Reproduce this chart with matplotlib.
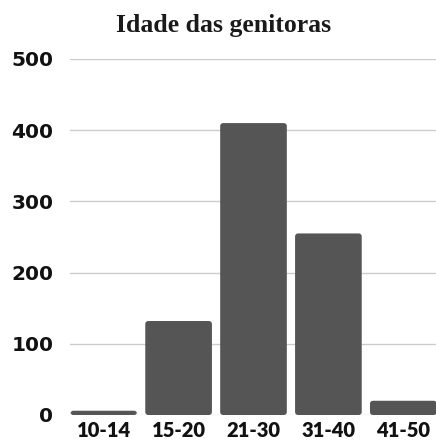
import matplotlib
matplotlib.use("Agg")
import matplotlib.pyplot as plt
from matplotlib.patches import FancyBboxPatch

# Data
categories = ["10-14", "15-20", "21-30", "31-40", "41-50"]
counts = [6, 132, 410, 255, 20]
y_ticks = [0, 100, 200, 300, 400, 500]

BAR_COLOR = "#555555"
GRID_COLOR = "#cccccc"

fig = plt.figure(figsize=(4.36, 4.43), dpi=100)
ax = fig.add_axes([70 / 436, 28 / 443, 367 / 436, 356 / 443])

bars = ax.bar(range(len(categories)), counts, width=0.89, color=BAR_COLOR, zorder=2)
ax.set_xlim(-0.45, len(categories) - 0.55)
ax.set_ylim(0, 500)

# Swap plain rectangles for slightly rounded ones.
aspect = 4.2 / 0.04
for rect in bars:
    x, y = rect.get_xy()
    w, h = rect.get_width(), rect.get_height()
    patch = FancyBboxPatch(
        (x, y), w, h,
        boxstyle="round,pad=0,rounding_size=0.04",
        mutation_aspect=aspect,
        facecolor=BAR_COLOR, edgecolor="none", zorder=2,
    )
    ax.add_patch(patch)
    rect.set_visible(False)

ax.set_yticks(y_ticks)
ax.set_xticks(range(len(categories)))
ax.set_xticklabels(categories)
ax.yaxis.grid(True, color=GRID_COLOR, linewidth=1.0, zorder=0)
ax.set_axisbelow(True)

for s in ax.spines.values():
    s.set_visible(False)
ax.tick_params(axis="both", length=0)
ax.tick_params(axis="y", pad=12)
ax.tick_params(axis="x", pad=4)

for lbl in ax.get_yticklabels():
    lbl.set_fontfamily(["DejaVu Sans"])
    lbl.set_fontweight("bold")
    lbl.set_fontsize(14.5)
    lbl.set_color("#111111")

for lbl in ax.get_xticklabels():
    lbl.set_fontfamily(["Lato", "DejaVu Sans"])
    lbl.set_fontweight("heavy")
    lbl.set_fontsize(14.5)
    lbl.set_color("#111111")

fig.text(0.512, 0.927, "Idade das genitoras", ha="center", va="baseline",
         fontsize=18.5, fontweight="bold", family=["Liberation Serif", "DejaVu Serif"],
         color="#1a1a1a")

fig.savefig("out.png", dpi=100)
